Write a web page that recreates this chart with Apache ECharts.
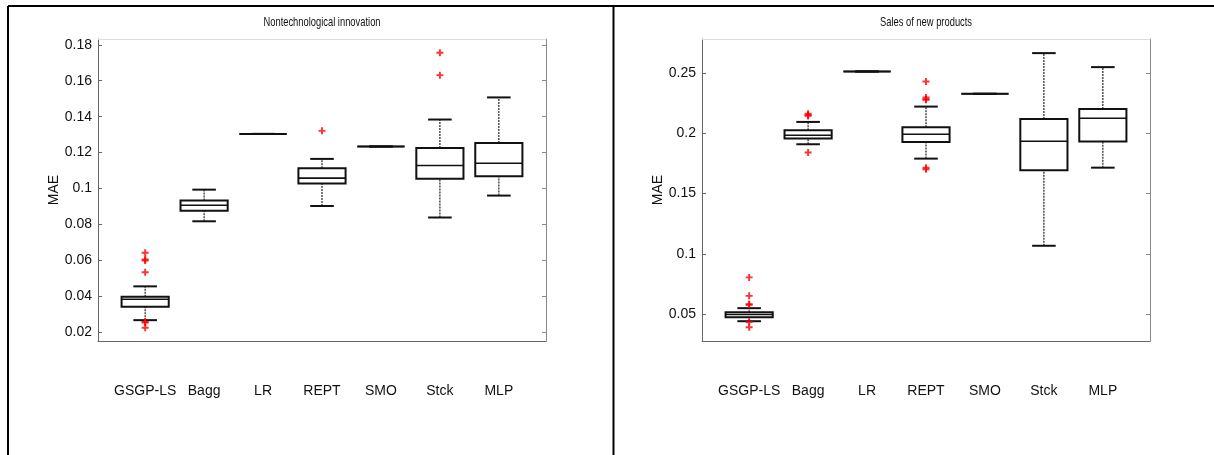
<!DOCTYPE html>
<html>
<head>
<meta charset="utf-8">
<script src="https://cdn.jsdelivr.net/npm/echarts@6/dist/echarts.min.js"></script>
<style>
  html, body { margin: 0; padding: 0; background: #fff; }
  #chart { width: 1214px; height: 455px; }
</style>
</head>
<body>
<div id="chart"></div>
<script>
const methods = ["GSGP-LS", "Bagg", "LR", "REPT", "SMO", "Stck", "MLP"];

// [lower whisker, Q1, median, Q3, upper whisker]
const innovBoxes = [
  [0.0268, 0.0343, 0.0384, 0.0398, 0.0456],
  [0.0818, 0.0877, 0.0907, 0.0933, 0.0994],
  [0.1304, 0.1304, 0.1304, 0.1304, 0.1304],
  [0.0903, 0.1028, 0.1058, 0.1113, 0.1165],
  [0.1234, 0.1234, 0.1234, 0.1234, 0.1234],
  [0.0839, 0.1054, 0.1128, 0.1225, 0.1384],
  [0.0961, 0.1069, 0.1141, 0.1253, 0.1507]
];
const innovOutliers = [
  [1, 0.0643], [1, 0.0605], [1, 0.0600], [1, 0.0534], [1, 0.0259], [1, 0.0255], [1, 0.0226],
  [4, 0.1321],
  [6, 0.1755], [6, 0.1631]
];

const salesBoxes = [
  [0.0442, 0.0475, 0.0497, 0.0517, 0.0550],
  [0.1908, 0.1955, 0.1983, 0.2024, 0.2093],
  [0.2511, 0.2511, 0.2511, 0.2511, 0.2511],
  [0.1789, 0.1927, 0.1991, 0.2049, 0.2220],
  [0.2326, 0.2326, 0.2326, 0.2326, 0.2326],
  [0.1067, 0.1693, 0.1933, 0.2118, 0.2663],
  [0.1714, 0.1930, 0.2124, 0.2201, 0.2547]
];
const salesOutliers = [
  [1, 0.0805], [1, 0.0652], [1, 0.0583], [1, 0.0578], [1, 0.0436], [1, 0.0392],
  [2, 0.2160], [2, 0.2150], [2, 0.2143], [2, 0.1839],
  [4, 0.2428], [4, 0.2295], [4, 0.2280], [4, 0.2276], [4, 0.1714], [4, 0.1701]
];

const innovTicks = [0.02, 0.04, 0.06, 0.08, 0.1, 0.12, 0.14, 0.16, 0.18];
const salesTicks = [0.05, 0.1, 0.15, 0.2, 0.25];
const xPos = [1, 2, 3, 4, 5, 6, 7];

const font = "'Liberation Sans', Arial, sans-serif";
const plus = "path://M3.6,0H6.4V3.6H10V6.4H6.4V10H3.6V6.4H0V3.6H3.6Z";

const chart = echarts.init(document.getElementById("chart"));

function fmt(v) {
  return String(+v.toFixed(3));
}

function boxItem(params, api) {
  const x = api.value(0);
  const lo = api.coord([x, api.value(1)]);
  const q1 = api.coord([x, api.value(2)]);
  const md = api.coord([x, api.value(3)]);
  const q3 = api.coord([x, api.value(4)]);
  const hi = api.coord([x, api.value(5)]);
  const half = api.size([0.8, 0])[0] / 2;
  const cap = half / 2;
  const cx = md[0];
  const solid = { stroke: "#111", lineWidth: 2, fill: null };
  const dash = { stroke: "#222", lineWidth: 1.2, lineDash: [2, 1], fill: null };
  return {
    type: "group",
    children: [
      { type: "line", shape: { x1: cx, y1: q3[1], x2: cx, y2: hi[1] }, style: dash },
      { type: "line", shape: { x1: cx, y1: lo[1], x2: cx, y2: q1[1] }, style: dash },
      { type: "line", shape: { x1: cx - cap, y1: hi[1], x2: cx + cap, y2: hi[1] }, style: solid },
      { type: "line", shape: { x1: cx - cap, y1: lo[1], x2: cx + cap, y2: lo[1] }, style: solid },
      { type: "rect", shape: { x: cx - half, y: q3[1], width: half * 2, height: q1[1] - q3[1] },
        style: { stroke: "#111", lineWidth: 2, fill: "#fff" } },
      { type: "line", shape: { x1: cx - half, y1: md[1], x2: cx + half, y2: md[1] },
        style: { stroke: "#111", lineWidth: 1.6, fill: null } }
    ]
  };
}

function panel(idx, left, yMin, yMax, ticks) {
  const grid = { left: left, top: 39, width: 448, height: 302, containLabel: false };
  const xAxes = [
    {
      gridIndex: idx, type: "value", min: 0.2, max: 7.8, position: "bottom",
      axisLine: { lineStyle: { color: "#666", width: 1 } },
      axisTick: { show: false },
      splitLine: { show: false },
      axisLabel: {
        customValues: xPos, margin: 43, color: "#111", fontFamily: font, fontSize: 14,
        formatter: v => methods[Math.round(v) - 1]
      }
    },
    {
      gridIndex: idx, type: "value", min: 0.2, max: 7.8, position: "top",
      axisLine: { lineStyle: { color: "#ddd", width: 1 } },
      axisTick: { show: false }, axisLabel: { show: false }, splitLine: { show: false }
    }
  ];
  const yAxes = [
    {
      gridIndex: idx, type: "value", min: yMin, max: yMax, position: "left",
      name: "MAE", nameLocation: "middle", nameGap: 35, nameRotate: 90,
      nameTextStyle: { color: "#111", fontFamily: font, fontSize: 14 },
      axisLine: { show: true, lineStyle: { color: "#666", width: 1 } },
      axisTick: { show: true, inside: true, length: 4, customValues: ticks, lineStyle: { color: "#666" } },
      splitLine: { show: false },
      axisLabel: { customValues: ticks, margin: 6, color: "#111", fontFamily: font, fontSize: 14, formatter: fmt }
    },
    {
      gridIndex: idx, type: "value", min: yMin, max: yMax, position: "right",
      axisLine: { show: true, lineStyle: { color: "#888", width: 1 } },
      axisTick: { show: true, inside: true, length: 4, customValues: ticks, lineStyle: { color: "#888" } },
      splitLine: { show: false }, axisLabel: { show: false }
    }
  ];
  return { grid, xAxes, yAxes };
}

const p0 = panel(0, 98, 0.0152, 0.1832, innovTicks);
const p1 = panel(1, 702, 0.0278, 0.278, salesTicks);

const toBoxData = boxes => boxes.map((b, i) => [xPos[i]].concat(b));

const titleStyle = text => ({
  text: text, align: "center", verticalAlign: "middle", fill: "#111",
  font: "13px 'Liberation Sans', Arial, sans-serif"
});

const option = {
  animation: false,
  backgroundColor: "#fff",
  grid: [p0.grid, p1.grid],
  xAxis: p0.xAxes.concat(p1.xAxes),
  yAxis: p0.yAxes.concat(p1.yAxes),
  graphic: [
    { type: "line", shape: { x1: 8, y1: 6, x2: 1214, y2: 6 }, style: { stroke: "#000", lineWidth: 2 } },
    { type: "line", shape: { x1: 8, y1: 6, x2: 8, y2: 455 }, style: { stroke: "#000", lineWidth: 2 } },
    { type: "line", shape: { x1: 613.5, y1: 6, x2: 613.5, y2: 455 }, style: { stroke: "#000", lineWidth: 2 } },
    { type: "text", x: 322, y: 22, scaleX: 0.72, style: titleStyle("Nontechnological innovation") },
    { type: "text", x: 926, y: 22, scaleX: 0.72, style: titleStyle("Sales of new products") }
  ],
  series: [
    {
      type: "custom", xAxisIndex: 0, yAxisIndex: 0, renderItem: boxItem,
      encode: { x: 0, y: [1, 2, 3, 4, 5] }, data: toBoxData(innovBoxes), silent: true
    },
    {
      type: "scatter", xAxisIndex: 0, yAxisIndex: 0, symbol: plus, symbolSize: 7,
      itemStyle: { color: "#ff0000" }, data: innovOutliers, silent: true
    },
    {
      type: "custom", xAxisIndex: 2, yAxisIndex: 2, renderItem: boxItem,
      encode: { x: 0, y: [1, 2, 3, 4, 5] }, data: toBoxData(salesBoxes), silent: true
    },
    {
      type: "scatter", xAxisIndex: 2, yAxisIndex: 2, symbol: plus, symbolSize: 7,
      itemStyle: { color: "#ff0000" }, data: salesOutliers, silent: true
    }
  ]
};

chart.setOption(option);
</script>
</body>
</html>
